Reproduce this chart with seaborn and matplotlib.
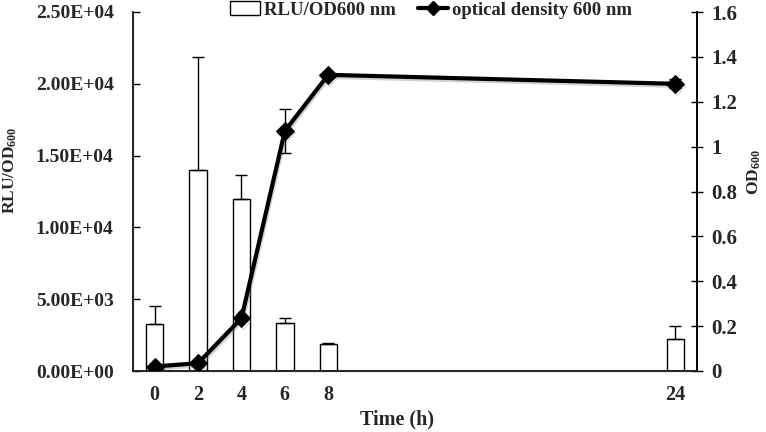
import numpy as np
import pandas as pd
import matplotlib
matplotlib.use("Agg")
import matplotlib.pyplot as plt
import seaborn as sns
from matplotlib.patches import Patch
from matplotlib.lines import Line2D
import matplotlib.patheffects as pe

# ---- data ----
all_cats = ['0', '2', '4', '6', '8', '10', '12', '14', '16', '18', '20', '22', '24']
time_h = ['0', '2', '4', '6', '8', '24']
rlu = [3300, 14000, 11950, 3320, 1900, 2250]
rlu_err = [1250, 7900, 1680, 350, 70, 850]
od = [0.02, 0.035, 0.235, 1.07, 1.32, 1.28]
od_err = [0.005, 0.005, 0.01, 0.097, 0.01, 0.02]
left_ticks = [0, 5000, 10000, 15000, 20000, 25000]
left_labels = ['0.00E+00', '5.00E+03', '1.00E+04', '1.50E+04', '2.00E+04', '2.50E+04']
right_ticks = [0, 0.2, 0.4, 0.6, 0.8, 1.0, 1.2, 1.4, 1.6]
right_labels = ['0', '0.2', '0.4', '0.6', '0.8', '1', '1.2', '1.4', '1.6']

sns.set_style("white")
plt.rcParams['font.family'] = ['Liberation Serif', 'DejaVu Serif']
plt.rcParams['font.weight'] = 'bold'
plt.rcParams['mathtext.fontset'] = 'custom'
plt.rcParams['mathtext.rm'] = 'Liberation Serif:bold'
plt.rcParams['mathtext.bf'] = 'Liberation Serif:bold'
plt.rcParams['mathtext.it'] = 'Liberation Serif:bold'

fig = plt.figure(figsize=(7.66, 4.32), dpi=100)
ax = fig.add_axes([133/766, 1-371/432, (697-133)/766, (371-12)/432])

df = pd.DataFrame({'time': time_h, 'rlu': rlu})
sns.barplot(data=df, x='time', y='rlu', order=all_cats, color='white',
            edgecolor='black', linewidth=1, width=0.4, errorbar=None, ax=ax)
for p in ax.patches:
    p.set_facecolor('white')
pos = [all_cats.index(t) for t in time_h]
ax.errorbar(pos, rlu, yerr=[np.zeros(len(rlu)), rlu_err], fmt='none',
            ecolor='black', elinewidth=1, capsize=4, capthick=1)

ax.set_xlim(-0.5, len(all_cats) - 0.5)
ax.set_ylim(0, 25000)
ax.set_yticks(left_ticks)
ax.set_yticklabels(left_labels, fontsize=14, fontweight='bold')
ax.set_xticks(range(len(all_cats)))
ax.set_xticklabels([c if c in time_h else '' for c in all_cats], fontsize=14.5, fontweight='bold')
ax.set_xticks(np.arange(0.5, len(all_cats) - 0.5, 1), minor=True)
ax.tick_params(axis='x', which='major', length=0, pad=10)
ax.tick_params(axis='x', which='minor', direction='in', length=5, width=1, color='black')
ax.tick_params(axis='y', direction='in', length=5, width=1, color='black', pad=14, left=True)
for s in ['left', 'bottom', 'right']:
    ax.spines[s].set_color('black')
    ax.spines[s].set_linewidth(1.2)
ax.spines['top'].set_visible(False)
ax.set_xlabel('Time (h)', fontsize=14.5, fontweight='bold')
ax.xaxis.set_label_coords((397 - 133) / 564, -(409 - 371) / 359)
ax.set_ylabel(r'RLU/OD$_{600}$', fontsize=12.5, fontweight='bold')
ax.yaxis.set_label_coords(-0.203, 0.56)

ax2 = ax.twinx()
ldf = pd.DataFrame({'x': pos, 'od': od})
sns.lineplot(data=ldf, x='x', y='od', ax=ax2, color='black', linewidth=3,
             marker='D', markersize=9, markeredgecolor='black',
             path_effects=[pe.SimpleLineShadow(offset=(0.8, -1.5), shadow_color='gray', alpha=0.35), pe.Normal()])
ax2.errorbar(pos, od, yerr=od_err, fmt='none', ecolor='black', elinewidth=1, capsize=4, capthick=1)
ax2.set_ylim(0, 1.6)
ax2.set_xlim(-0.5, len(all_cats) - 0.5)
ax2.set_yticks(right_ticks)
ax2.set_yticklabels(right_labels, fontsize=15, fontweight='bold')
ax2.tick_params(axis='y', direction='inout', length=9, width=1, color='black', pad=6, right=True)
ax2.set_xlabel('')
ax2.set_ylabel(r'OD$_{600}$', fontsize=12.5, fontweight='bold', rotation=90)
ax2.yaxis.set_label_coords(1.087, 0.555)
ax2.spines['top'].set_visible(False)
ax2.spines['right'].set_color('black')
ax2.spines['right'].set_linewidth(1.2)

handles = [Patch(facecolor='white', edgecolor='black', linewidth=1),
           Line2D([0], [0], color='black', lw=3, marker='D', markersize=7)]
fig.legend(handles, ['RLU/OD600 nm', 'optical density 600 nm'], loc='center',
           bbox_to_anchor=(0.563, 1 - 10/432), ncol=2, frameon=False,
           prop={'family': 'Liberation Serif', 'weight': 'bold', 'size': 13.5},
           handlelength=1.6, handletextpad=0.2, columnspacing=1.2)

fig.savefig('out.png', dpi=100)
